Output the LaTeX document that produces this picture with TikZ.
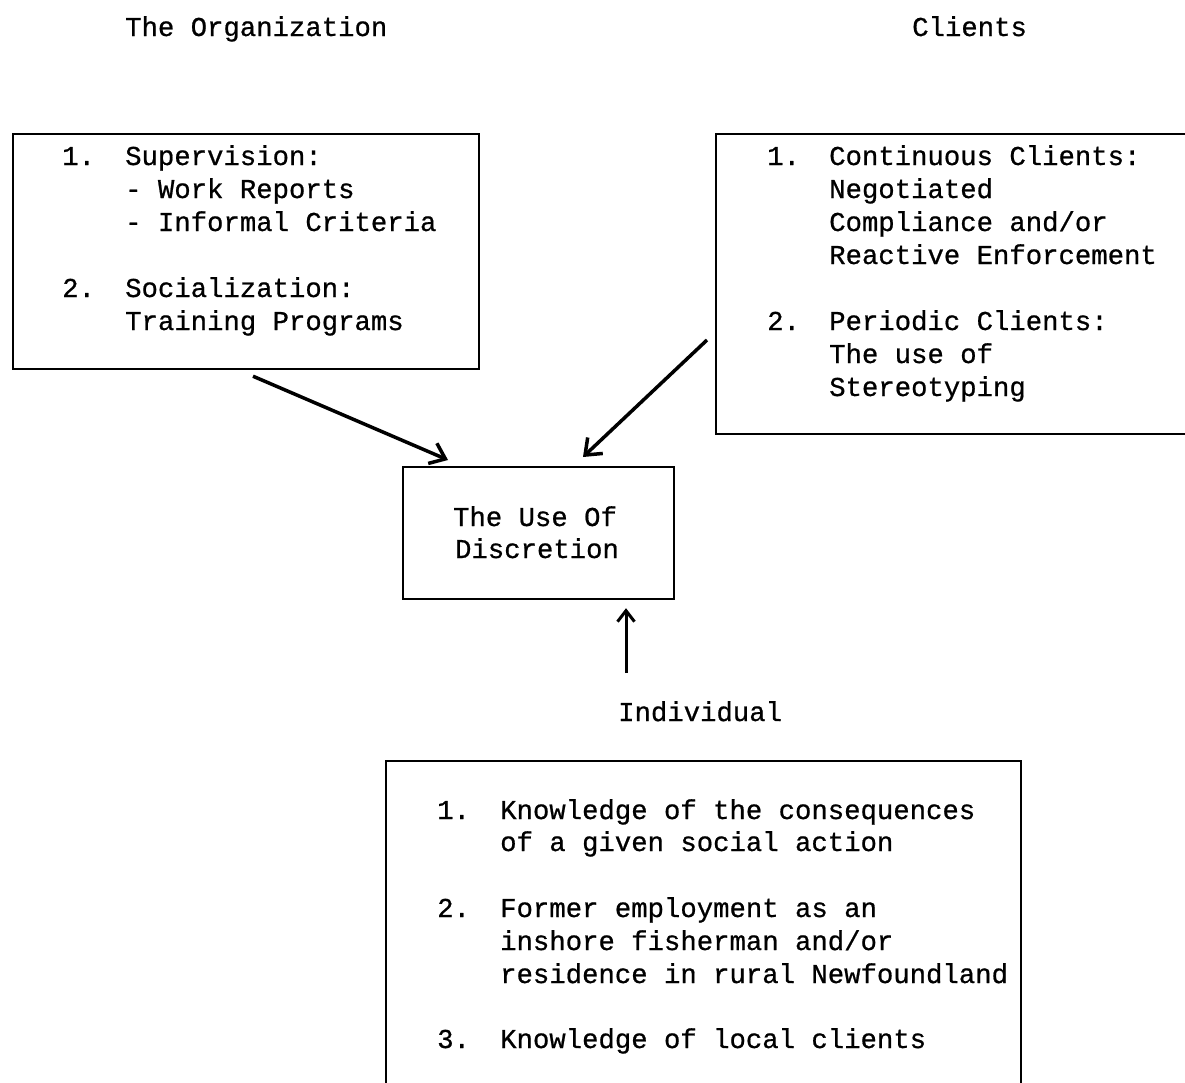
\documentclass[tikz,border=0pt]{standalone}
\usepackage{fontspec}
\setmainfont{Liberation Mono}[FakeBold=0.7]
\usetikzlibrary{arrows.meta}
\begin{document}
\begin{tikzpicture}[x=1pt,y=-1pt,
  box/.style={draw,line width=2.2pt,rectangle,anchor=north west,inner sep=0pt},
  txt/.style={anchor=base west,inner sep=0pt,font=\fontsize{27.3}{33}\selectfont},
  arr/.style={line width=3.5pt,-{Straight Barb[length=14pt,width=22pt,line width=3.5pt]}}]
\useasboundingbox (0,0) rectangle (1185,1082);
\clip (0,0) rectangle (1185,1082);
% titles
\node[txt] (t1) at (125,36) {The Organization};
\node[txt] (t2) at (912,36) {Clients};
% left box
\node[box,minimum width=466pt,minimum height=235pt] (lb) at (12,133) {};
\node[txt] (l1n) at (62,165) {1.};
\node[txt] (l1a) at (125,165) {Supervision:};
\node[txt] (l1b) at (125,198) {- Work Reports};
\node[txt] (l1c) at (125,231) {- Informal Criteria};
\node[txt] (l2n) at (62,297) {2.};
\node[txt] (l2a) at (125,297) {Socialization:};
\node[txt] (l2b) at (125,330) {Training Programs};
% right box
\node[box,minimum width=490pt,minimum height=300pt] (rb) at (715,133) {};
\node[txt] (r1n) at (767,165) {1.};
\node[txt] (r1a) at (829,165) {Continuous Clients:};
\node[txt] (r1b) at (829,198) {Negotiated};
\node[txt] (r1c) at (829,231) {Compliance and/or};
\node[txt] (r1d) at (829,264) {Reactive Enforcement};
\node[txt] (r2n) at (767,330) {2.};
\node[txt] (r2a) at (829,330) {Periodic Clients:};
\node[txt] (r2b) at (829,363) {The use of};
\node[txt] (r2c) at (829,396) {Stereotyping};
% center box
\node[box,minimum width=271pt,minimum height=132pt] (cb) at (402,466) {};
\node[txt,anchor=base] (c1) at (535,526) {The Use Of};
\node[txt,anchor=base] (c2) at (537,558) {Discretion};
% individual
\node[txt] (ind) at (618,721) {Individual};
% bottom box
\node[box,minimum width=635pt,minimum height=340pt] (bb) at (385,760) {};
\node[txt] (b1n) at (437,819) {1.};
\node[txt] (b1a) at (500,819) {Knowledge of the consequences};
\node[txt] (b1b) at (500,851) {of a given social action};
\node[txt] (b2n) at (437,917) {2.};
\node[txt] (b2a) at (500,917) {Former employment as an};
\node[txt] (b2b) at (500,950) {inshore fisherman and/or};
\node[txt] (b2c) at (500,983) {residence in rural Newfoundland};
\node[txt] (b3n) at (437,1048) {3.};
\node[txt] (b3a) at (500,1048) {Knowledge of local clients};
% arrows
\draw[arr] ([xshift=241pt,yshift=-6pt]lb.south west) -- ([xshift=46pt,yshift=6pt]cb.north west);
\draw[arr] ([xshift=-8pt,yshift=-207pt]rb.north west) -- ([xshift=181pt,yshift=9pt]cb.north west);
\draw[line width=3pt,-{Straight Barb[length=11pt,width=17pt,line width=3pt]}] ([xshift=8pt,yshift=28pt]ind.north west) -- ([xshift=224pt,yshift=-8pt]cb.south west);
\end{tikzpicture}
\end{document}
